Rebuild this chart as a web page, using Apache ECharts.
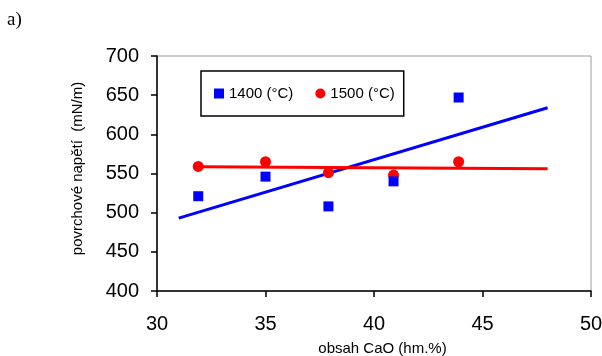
<!DOCTYPE html>
<html>
<head>
<meta charset="utf-8">
<script src="https://cdn.jsdelivr.net/npm/echarts@6/dist/echarts.min.js"></script>
<style>
  html, body { margin: 0; padding: 0; background: #fff; }
  #chart { width: 602px; height: 356px; }
</style>
</head>
<body>
<div id="chart"></div>
<script>
// CaO content (wt.%) of the measured slags
const cao = [31.9, 35.0, 37.9, 40.9, 43.9];
// Surface tension (mN/m) at 1400 °C and 1500 °C
const sigma1400 = [521, 546, 508, 540, 647];
const sigma1500 = [559, 565, 551, 548, 565];
// Linear trend lines: x range and fitted end values
const trend1400X = [31, 48];
const trend1400Y = [493, 634];
const trend1500X = [32, 48];
const trend1500Y = [558.5, 556];
// Axis ticks
const xTicks = { min: 30, max: 50, step: 5 };
const yTicks = { min: 400, max: 700, step: 50 };

const pairs = (xs, ys) => xs.map((x, i) => [x, ys[i]]);
const font = 'Liberation Sans, Arial, sans-serif';

const chart = echarts.init(document.getElementById('chart'), null, { renderer: 'canvas' });
chart.setOption({
  animation: false,
  backgroundColor: '#fff',
  grid: {
    left: 157, right: 11, top: 56, bottom: 65,
    containLabel: false, outerBoundsMode: 'none',
    show: true, borderColor: '#9a9a9a', borderWidth: 1
  },
  graphic: [{
    type: 'text', left: 7, top: 11,
    style: { text: 'a)', font: '19px "Liberation Serif", "Times New Roman", serif', fill: '#000' }
  }],
  legend: {
    left: 201, top: 71,
    data: ['1400 (°C)', '1500 (°C)'],
    orient: 'horizontal',
    itemWidth: 10, itemHeight: 10, itemGap: 22,
    padding: [15, 9, 15, 13],
    borderColor: '#000', borderWidth: 1.5,
    backgroundColor: '#fff',
    textStyle: { fontFamily: font, fontSize: 15, color: '#000' }
  },
  xAxis: {
    type: 'value', min: xTicks.min, max: xTicks.max, interval: xTicks.step,
    name: 'obsah CaO (hm.%)', nameLocation: 'middle', nameGap: 50,
    nameTextStyle: { fontFamily: font, fontSize: 15, color: '#000', padding: [0, 0, 0, 17] },
    axisLine: { lineStyle: { color: '#000', width: 1.5 } },
    axisTick: { show: true, length: 6, lineStyle: { color: '#000', width: 1.5 } },
    axisLabel: { fontFamily: font, fontSize: 20, color: '#000', margin: 23 },
    splitLine: { show: false }
  },
  yAxis: {
    type: 'value', min: yTicks.min, max: yTicks.max, interval: yTicks.step,
    name: 'povrchové napětí  (mN/m)', nameLocation: 'middle', nameGap: 72, nameRotate: 90,
    nameTextStyle: { fontFamily: font, fontSize: 15, color: '#000', padding: [0, 0, 0, 10] },
    axisLine: { show: true, lineStyle: { color: '#000', width: 1.5 } },
    axisTick: { show: true, length: 6, lineStyle: { color: '#000', width: 1.5 } },
    axisLabel: { fontFamily: font, fontSize: 20, color: '#000', margin: 18 },
    splitLine: { show: false }
  },
  series: [
    {
      name: 'trend 1400', type: 'line', data: pairs(trend1400X, trend1400Y),
      symbol: 'none', lineStyle: { color: '#0000ff', width: 3 }, silent: true, z: 1
    },
    {
      name: 'trend 1500', type: 'line', data: pairs(trend1500X, trend1500Y),
      symbol: 'none', lineStyle: { color: '#ff0000', width: 3 }, silent: true, z: 1
    },
    {
      name: '1400 (°C)', type: 'scatter', data: pairs(cao, sigma1400),
      symbol: 'rect', symbolSize: 10, itemStyle: { color: '#0000ff', opacity: 1 }, z: 3
    },
    {
      name: '1500 (°C)', type: 'scatter', data: pairs(cao, sigma1500),
      symbol: 'circle', symbolSize: 11, itemStyle: { color: '#ff0000', opacity: 1 }, z: 2
    }
  ]
});
</script>
</body>
</html>
